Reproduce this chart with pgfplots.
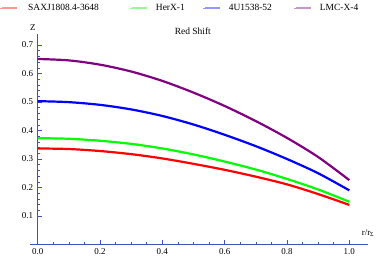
\documentclass[border=0pt]{standalone}
\usepackage{pgfplots}
\pgfplotsset{compat=1.18}
\usepackage{fontspec}
\setmainfont{Liberation Serif}
\definecolor{axc}{RGB}{65,80,190}
\definecolor{cpur}{RGB}{128,0,128}
\definecolor{lred}{RGB}{255,150,150}
\definecolor{lgreen}{RGB}{150,250,150}
\definecolor{lblue}{RGB}{150,150,255}
\definecolor{lpur}{RGB}{200,150,200}
\begin{document}
\begin{tikzpicture}
\useasboundingbox (-29.9bp,-13.5bp) rectangle (348.1bp,244.5bp);
\begin{axis}[
  scale only axis,
  width=338.1bp, height=210.9bp,
  xmin=-0.025, xmax=1.06, ymin=0, ymax=0.74,
  axis lines=middle,
  axis line style={-, color=axc, line width=1.1bp},
  every tick/.style={color=axc, line width=0.6bp},
  tick align=inside,
  major tick length=4bp, minor tick length=2.2bp,
  xtick={0,0.2,0.4,0.6,0.8,1.0},
  ytick={0.1,0.2,0.3,0.4,0.5,0.6,0.7},
  minor x tick num=3, minor y tick num=4,
  hide obscured x ticks=false,
  hide obscured y ticks=false,
  /pgf/number format/fixed,
  /pgf/number format/fixed zerofill,
  /pgf/number format/precision=1,
  /pgf/number format/assume math mode=true,
  tick label style={font=\fontsize{9}{10}\selectfont},
  xticklabel style={yshift=-1bp},
  yticklabel style={xshift=-1bp},
  xlabel={r/r\textsubscript{Σ}},
  ylabel={Z},
  xlabel style={at={(axis description cs:1.0,0.055)}, anchor=center, font=\fontsize{9}{10}\selectfont},
  ylabel style={at={(axis description cs:0.009,1.027)}, anchor=center, rotate=0, font=\fontsize{9}{10}\selectfont},
  clip=false,
  legend columns=4,
  legend style={at={(axis description cs:-0.0884,1.121)}, anchor=west, draw=none, fill=none,
    inner sep=0pt, font=\fontsize{9.5}{11}\selectfont, column sep=0pt,
    nodes={inner sep=0pt}},
  legend image code/.code={\path (0bp,0bp) -- (17bp,0bp); \draw[#1, line width=1.6bp] (2bp,0bp) -- (17bp,0bp);},
  legend cell align=left,
]
\addlegendimage{lred}\addlegendentry{\rule{10bp}{0pt}SAXJ1808.4-3648\rule{31bp}{0pt}}
\addlegendimage{lgreen}\addlegendentry{\rule{8bp}{0pt}HerX-1\rule{18bp}{0pt}}
\addlegendimage{lblue}\addlegendentry{\rule{8bp}{0pt}4U1538-52\rule{22bp}{0pt}}
\addlegendimage{lpur}\addlegendentry{\rule{8bp}{0pt}LMC-X-4}
\addplot[red, line width=2.2bp, smooth, forget plot] table {
x y
0.0 0.337
0.1 0.335
0.2 0.328
0.3 0.317
0.4 0.302
0.5 0.283
0.6 0.262
0.7 0.238
0.8 0.211
0.9 0.177
1.0 0.139
};
\addplot[green, line width=2.2bp, smooth, forget plot] table {
x y
0.0 0.373
0.1 0.371
0.2 0.364
0.3 0.353
0.4 0.337
0.5 0.316
0.6 0.291
0.7 0.263
0.8 0.230
0.9 0.193
1.0 0.150
};
\addplot[blue, line width=2.2bp, smooth, forget plot] table {
x y
0.0 0.503
0.1 0.4995
0.2 0.490
0.3 0.474
0.4 0.451
0.5 0.421
0.6 0.385
0.7 0.345
0.8 0.300
0.9 0.250
1.0 0.190
};
\addplot[cpur, line width=2.2bp, smooth, forget plot] table {
x y
0.0 0.651
0.1 0.646
0.2 0.631
0.3 0.607
0.4 0.574
0.5 0.533
0.6 0.486
0.7 0.433
0.8 0.374
0.9 0.307
1.0 0.226
};
\node[font=\fontsize{9.5}{11}\selectfont] at (axis description cs:0.482,1.012) {Red Shift};
\end{axis}
\end{tikzpicture}
\end{document}
